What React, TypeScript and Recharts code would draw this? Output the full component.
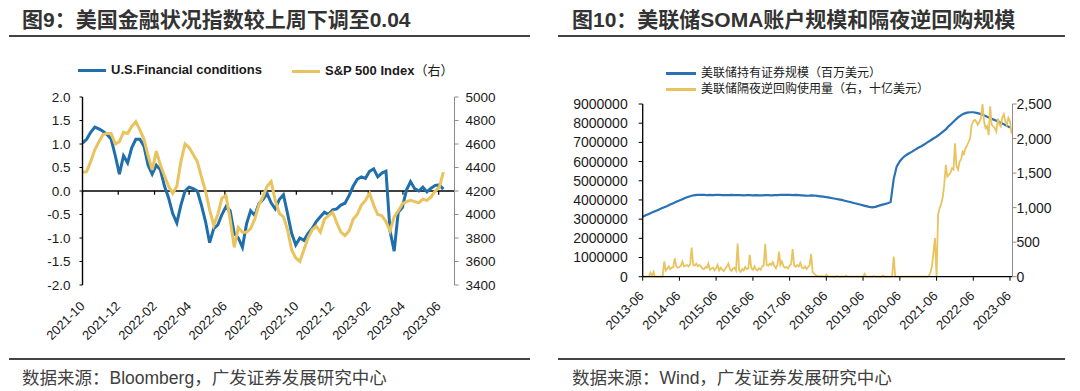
import React from "react";
import { LineChart, Line, XAxis, YAxis, ReferenceLine } from "recharts";

const SANS = '"Liberation Sans", Arial, "Noto Sans CJK SC", sans-serif';
const CJK = '"Noto Sans CJK SC", "Liberation Sans", sans-serif';
const INK = "#1a1a1a";
const BLUE = "#1f6fad";
const GOLD = "#e8c35e";
const DAY = 86400000;

const ym = (s: string) => {
  const [y, m] = s.split("-").map(Number);
  return Date.UTC(y, m - 1, 1);
};

// 图9: weekly closes from 2021-10-01
const fciStart = Date.UTC(2021, 9, 1);
const fciEnd = Date.UTC(2023, 5, 28);
const fciTickLabels = [
  "2021-10", "2021-12", "2022-02", "2022-04", "2022-06", "2022-08",
  "2022-10", "2022-12", "2023-02", "2023-04", "2023-06",
];
const fciLeftTicks = [-2, -1.5, -1, -0.5, 0, 0.5, 1, 1.5, 2];
const spxTicks = [3400, 3600, 3800, 4000, 4200, 4400, 4600, 4800, 5000];

const fciValues = [
  1.02, 1.1, 1.25, 1.36, 1.32, 1.27, 1.2, 1.1, 0.75, 0.36,
  0.75, 0.6, 0.92, 1.1, 1.1, 0.95, 0.55, 0.36, 0.55, 0.45,
  0.1, -0.15, -0.48, -0.68, -0.3, 0.0, 0.08, 0.05, 0.0, -0.3,
  -0.65, -1.1, -0.8, -0.72, -0.5, -0.33, -0.42, -0.9, -1.0, -1.2,
  -0.7, -0.42, -0.52, -0.27, -0.18, -0.05, -0.25, -0.38, -0.18, -0.08,
  -0.48, -0.9, -1.15, -1.0, -1.05, -0.9, -0.8, -0.65, -0.55, -0.45,
  -0.5, -0.4, -0.38, -0.3, -0.26, -0.1, 0.1, 0.25, 0.3, 0.27,
  0.42, 0.47, 0.3, 0.38, 0.42, -0.85, -1.28, -0.45, -0.35, 0.02,
  0.2, 0.05, 0.0, 0.08, -0.02, 0.06, 0.12, 0.13, 0.04,
];
const spxValues = [
  4360, 4365, 4450, 4550, 4620, 4680, 4690, 4690, 4600, 4620,
  4700, 4690, 4750, 4790, 4720, 4640, 4500, 4380, 4540, 4420,
  4330, 4240, 4180, 4240, 4450, 4600, 4570, 4510, 4450, 4320,
  4200, 4040, 3910, 4000, 4140, 4160, 3960, 3720, 3890, 3850,
  3850, 3880, 3960, 4080, 4150, 4240, 4280, 4120, 4010, 3980,
  3870, 3700, 3630, 3600, 3700, 3800, 3870, 3900, 3850, 3960,
  3990, 4020, 3930, 3850, 3820, 3860, 3960, 4000, 4080, 4120,
  4180, 4080, 4000, 3990, 3940, 3860, 3980, 4030, 4090, 4110,
  4120, 4110, 4100, 4130, 4120, 4150, 4200, 4230, 4360,
];

// 图10: SOMA monthly (1st of month from 2013-06), RRP twice a month (1st, 16th)
const somaStart = Date.UTC(2013, 5, 1);
const somaEnd = Date.UTC(2023, 5, 26);
const somaTickLabels = [
  "2013-06", "2014-06", "2015-06", "2016-06", "2017-06", "2018-06",
  "2019-06", "2020-06", "2021-06", "2022-06", "2023-06",
];
const somaLeftTicks = [0, 1000000, 2000000, 3000000, 4000000, 5000000, 6000000, 7000000, 8000000, 9000000];
const rrpTicks = [0, 500, 1000, 1500, 2000, 2500];

const somaValues = [
  3130000, 3200000, 3270000, 3340000, 3410000, 3480000, 3550000,
  3620000, 3690000, 3760000, 3830000, 3900000, 3970000, 4040000, 4110000, 4170000, 4220000, 4250000, 4260000,
  4260000, 4260000, 4250000, 4260000, 4250000, 4260000, 4260000, 4250000, 4250000, 4250000, 4260000, 4250000,
  4250000, 4250000, 4240000, 4250000, 4250000, 4240000, 4250000, 4240000, 4240000, 4250000, 4250000, 4240000,
  4250000, 4250000, 4260000, 4260000, 4260000, 4260000, 4250000, 4260000, 4250000, 4240000, 4230000, 4220000,
  4240000, 4230000, 4210000, 4190000, 4170000, 4150000, 4120000, 4090000, 4060000, 4030000, 4000000, 3960000,
  3920000, 3880000, 3840000, 3800000, 3760000, 3720000, 3680000, 3640000, 3610000, 3640000, 3690000, 3740000,
  3780000, 3830000, 3890000, 5100000, 5750000, 6020000, 6200000, 6330000, 6430000, 6520000, 6620000, 6720000,
  6800000, 6900000, 7000000, 7100000, 7200000, 7300000, 7420000, 7550000, 7680000, 7850000, 8000000, 8150000,
  8300000, 8420000, 8500000, 8550000, 8570000, 8570000, 8540000, 8500000, 8440000, 8370000, 8300000, 8230000,
  8160000, 8100000, 8020000, 7940000, 7860000, 7780000,
];

const rrpValues = [
  // 2013 Jun-Dec
  0, 0, 0, 5, 0, 60, 10, 70, 0, 0, 0, 0, 5, 0,
  // 2014
  220, 90, 120, 150, 110, 130, 140, 265, 150, 130, 140, 160,
  220, 150, 160, 170, 150, 180, 420, 170, 160, 190, 150, 170,
  // 2015
  150, 120, 110, 140, 130, 190, 100, 120, 130, 90, 120, 170,
  90, 130, 100, 80, 120, 150, 190, 110, 80, 120, 130, 90,
  // 2016
  480, 90, 70, 110, 90, 140, 110, 120, 315, 120, 100, 150,
  110, 90, 120, 100, 150, 160, 475, 170, 160, 190, 170, 210,
  // 2017
  150, 120, 180, 360, 170, 220, 150, 130, 140, 120, 160, 180,
  400, 160, 140, 170, 150, 200, 130, 120, 150, 110, 140, 160,
  // 2018
  330, 70, 40, 20, 15, 10, 5, 10, 5, 0, 30, 5,
  0, 0, 0, 5, 0, 10, 0, 0, 5, 0, 0, 15,
  // 2019
  0, 0, 0, 5, 0, 0, 5, 0, 0, 0, 0, 40,
  0, 0, 0, 5, 0, 10, 0, 0, 0, 5, 0, 15,
  // 2020
  0, 0, 0, 0, 0, 5, 290, 0, 0, 0, 0, 0,
  0, 0, 0, 0, 0, 0, 0, 0, 0, 0, 0, 0,
  // 2021
  0, 0, 0, 0, 0, 10, 60, 150, 350, 560, 0, 900,
  990, 1050, 1150, 1330, 1620, 1450, 1475, 1500, 1570, 1550, 1930, 1600,
  // 2022
  1550, 1665, 1700, 1810, 1780, 1860, 1900, 1950, 2005, 2200, 2250, 2270,
  2245, 2200, 2240, 2295, 2500, 2250, 2150, 2180, 2050, 2465, 2200, 2175,
  // 2023 Jan-Jun
  2150, 2100, 2290, 2200, 2175, 2300, 2350, 2250, 2200, 2300, 2250, 2070,
];

const fciData = fciValues.map((v, i) => ({ t: fciStart + i * 7 * DAY, fci: v, spx: spxValues[i] }));
const fciTicks = fciTickLabels.map(ym);
const somaData = somaValues.map((v, i) => ({ t: Date.UTC(2013, 5 + i, 1), soma: v }));
const rrpData = rrpValues.map((v, i) => ({
  t: Date.UTC(2013, 5 + Math.floor(i / 2), i % 2 ? 16 : 1),
  rrp: v,
}));
const somaTicks = somaTickLabels.map(ym);

const fmtYm = (t: number) => {
  const d = new Date(t);
  return `${d.getUTCFullYear()}-${String(d.getUTCMonth() + 1).padStart(2, "0")}`;
};

function DateTick({ x, y, payload, dx = 3, dy = 20 }: any) {
  return (
    <text
      transform={`translate(${x + dx},${y + dy}) rotate(-45)`}
      textAnchor="end"
      fontSize={13}
      fontFamily={SANS}
      fill={INK}
    >
      {fmtYm(payload.value)}
    </text>
  );
}

const numTick = { fill: INK, fontSize: 13.5, fontFamily: SANS };

function FciChart() {
  return (
    <LineChart width={540} height={391} data={fciData} margin={{ top: 97, right: 0, bottom: 0, left: 0 }}>
      <XAxis
        type="number"
        dataKey="t"
        domain={[fciStart, fciEnd]}
        ticks={fciTicks}
        interval={0}
        height={106}
        axisLine={false}
        tickLine={false}
        tickSize={0}
        tick={(p: any) => <DateTick {...p} />}
        allowDataOverflow
      />
      <YAxis
        yAxisId="l"
        domain={[-2, 2]}
        ticks={fciLeftTicks}
        interval={0}
        width={82.5}
        axisLine={{ stroke: "#000", strokeWidth: 1.4 }}
        tickLine={{ stroke: "#000" }}
        tickSize={3}
        tickMargin={9}
        tick={numTick}
        tickFormatter={(v: number) => v.toFixed(1)}
      />
      <YAxis
        yAxisId="r"
        orientation="right"
        domain={[3400, 5000]}
        ticks={spxTicks}
        interval={0}
        width={85.5}
        axisLine={{ stroke: "#8c8c8c" }}
        tickLine={{ stroke: "#8c8c8c" }}
        tickSize={4}
        tickMargin={7}
        tick={numTick}
      />
      <ReferenceLine yAxisId="l" y={0} stroke="#000" strokeWidth={1.5} />
      {fciTicks.map((t) => (
        <ReferenceLine
          key={t}
          yAxisId="l"
          segment={[{ x: t, y: 0 }, { x: t, y: -0.08 }]}
          stroke="#000"
          strokeWidth={1.2}
        />
      ))}
      <Line yAxisId="l" dataKey="fci" stroke={BLUE} strokeWidth={3} dot={false} isAnimationActive={false} />
      <Line yAxisId="r" dataKey="spx" stroke={GOLD} strokeWidth={3} dot={false} isAnimationActive={false} />
    </LineChart>
  );
}

function SomaChart() {
  return (
    <LineChart width={540} height={391} margin={{ top: 104, right: 0, bottom: 0, left: 0 }}>
      <XAxis
        type="number"
        dataKey="t"
        domain={[somaStart, somaEnd]}
        ticks={somaTicks}
        interval={0}
        height={114.3}
        axisLine={{ stroke: "#000", strokeWidth: 1.3 }}
        tickLine={{ stroke: "#000" }}
        tickSize={4}
        tickMargin={0}
        tick={(p: any) => <DateTick {...p} dx={2} dy={16} />}
        allowDataOverflow
      />
      <YAxis
        yAxisId="l"
        domain={[0, 9000000]}
        ticks={somaLeftTicks}
        interval={0}
        width={102.7}
        axisLine={{ stroke: "#000", strokeWidth: 1.3 }}
        tickLine={{ stroke: "#000" }}
        tickSize={4}
        tickMargin={11}
        tick={{ ...numTick, fontSize: 14 }}
      />
      <YAxis
        yAxisId="r"
        orientation="right"
        domain={[0, 2500]}
        ticks={rrpTicks}
        interval={0}
        width={67.5}
        axisLine={{ stroke: "#8c8c8c" }}
        tickLine={{ stroke: "#8c8c8c" }}
        tickSize={4}
        tickMargin={0}
        tick={{ ...numTick, fontSize: 14 }}
        tickFormatter={(v: number) => v.toLocaleString("en-US")}
      />
      <Line data={somaData} yAxisId="l" dataKey="soma" stroke="#2a72b5" strokeWidth={2.2} dot={false} isAnimationActive={false} />
      <Line data={rrpData} yAxisId="r" dataKey="rrp" stroke={GOLD} strokeWidth={1.8} dot={false} isAnimationActive={false} />
    </LineChart>
  );
}

const abs = (left: number, top: number, extra: React.CSSProperties = {}): React.CSSProperties => ({
  position: "absolute",
  left,
  top,
  whiteSpace: "nowrap",
  ...extra,
});

function Swatch({ color, width = 28 }: { color: string; width?: number }) {
  return <span style={{ display: "inline-block", width, height: 3, background: color, verticalAlign: "middle", marginRight: 5 }} />;
}

const titleStyle: React.CSSProperties = { fontFamily: SANS, fontWeight: 700, fontSize: 21, lineHeight: "23px", color: "#333" };
const sourceStyle: React.CSSProperties = { fontFamily: SANS, fontSize: 17.5, lineHeight: "20px", color: "#404040" };

export default function App() {
  return (
    <div style={{ position: "absolute", left: 0, top: 0, width: 1080, height: 391, background: "#fff", fontFamily: SANS, overflow: "hidden" }}>
      <div style={abs(0, 0)}>
        <FciChart />
      </div>
      <div style={abs(540, 0)}>
        <SomaChart />
      </div>

      <div style={abs(22, 8, titleStyle)}>图9：美国金融状况指数较上周下调至0.04</div>
      <div style={abs(572, 8, titleStyle)}>图10：美联储SOMA账户规模和隔夜逆回购规模</div>
      <div style={abs(9, 35, { width: 521, height: 1.5, background: "#444" })} />
      <div style={abs(558, 35, { width: 507, height: 1.5, background: "#444" })} />

      <div style={abs(78, 62, { fontWeight: 700, fontSize: 13, lineHeight: "16px", color: INK })}>
        <Swatch color={BLUE} />U.S.Financial conditions
      </div>
      <div style={abs(292, 62, { fontWeight: 700, fontSize: 13, lineHeight: "16px", color: INK })}>
        <Swatch color={GOLD} />S&amp;P 500 Index<span style={{ fontFamily: CJK, fontWeight: 400 }}>（右）</span>
      </div>

      <div style={abs(666, 65, { fontFamily: CJK, fontSize: 12, lineHeight: "14px", color: INK })}>
        <Swatch color="#2a72b5" width={30} />美联储持有证券规模（百万美元）
      </div>
      <div style={abs(666, 81, { fontFamily: CJK, fontSize: 12, lineHeight: "14px", color: INK })}>
        <Swatch color={GOLD} width={30} />美联储隔夜逆回购使用量（右，十亿美元）
      </div>

      <div style={abs(9, 358, { width: 521, height: 1.5, background: "#444" })} />
      <div style={abs(558, 358, { width: 507, height: 1.5, background: "#444" })} />
      <div style={abs(22, 368, sourceStyle)}>数据来源：Bloomberg，广发证券发展研究中心</div>
      <div style={abs(572, 368, sourceStyle)}>数据来源：Wind，广发证券发展研究中心</div>
    </div>
  );
}
